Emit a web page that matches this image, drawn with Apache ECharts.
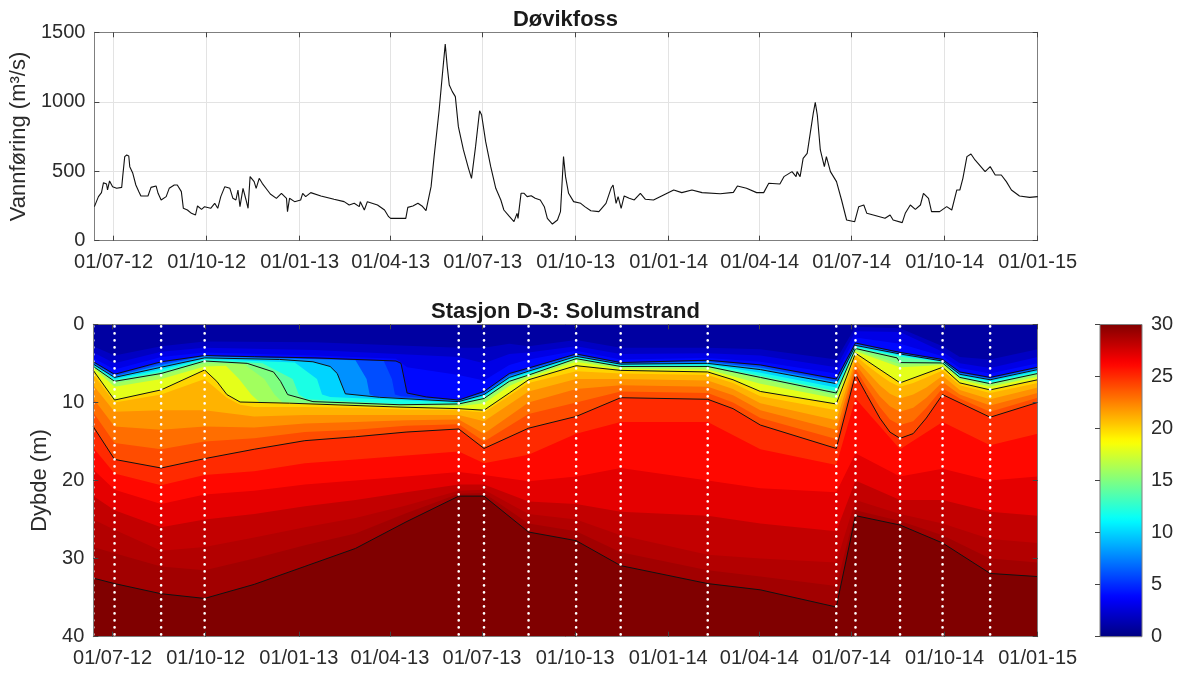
<!DOCTYPE html>
<html><head><meta charset="utf-8">
<script src="https://cdn.jsdelivr.net/npm/echarts@6/dist/echarts.min.js"></script>
<style>html,body{margin:0;padding:0;background:#fff}#c{width:1179px;height:675px}</style>
</head><body><div id="c"></div>
<script>
// ---------- DATA ----------
// Discharge, Døvikfoss: [day offset from 2012-07-01, m3/s]
const discharge = [[-19,245],[-15,317],[-12,346],[-10,418],[-7,408],[-6,365],[-4,430],[-1,389],[3,377],[8,384],[9,461],[11,605],[13,617],[15,610],[16,533],[19,485],[22,401],[25,353],[27,322],[34,322],[37,384],[42,394],[44,341],[47,293],[52,317],[55,377],[60,401],[63,401],[67,353],[69,233],[73,221],[77,197],[81,185],[83,250],[87,226],[90,245],[96,233],[100,269],[103,233],[106,317],[110,389],[115,377],[118,305],[121,293],[123,365],[125,245],[128,377],[131,293],[133,233],[135,461],[139,425],[141,377],[144,449],[147,413],[152,365],[155,336],[161,305],[166,341],[171,305],[172,209],[174,305],[179,281],[185,293],[187,341],[190,317],[195,346],[205,322],[218,298],[228,281],[233,257],[238,269],[243,245],[244,281],[248,221],[251,281],[261,257],[268,221],[272,173],[274,161],[289,161],[291,240],[296,250],[301,269],[305,250],[309,216],[314,389],[317,605],[322,941],[325,1181],[328,1415],[330,1253],[332,1121],[335,1073],[338,1037],[341,821],[346,653],[351,521],[354,449],[358,677],[362,935],[364,905],[368,713],[373,533],[378,377],[383,293],[386,221],[391,178],[396,137],[399,197],[400,161],[403,341],[406,341],[409,317],[413,324],[417,305],[422,293],[426,245],[429,161],[434,120],[439,149],[442,209],[445,605],[447,461],[450,341],[455,281],[462,269],[466,245],[472,216],[480,209],[487,269],[492,377],[494,401],[497,269],[499,317],[502,233],[505,322],[510,305],[515,293],[521,341],[526,298],[534,293],[544,329],[554,365],[562,346],[572,365],[582,346],[600,338],[613,348],[617,394],[626,377],[636,346],[643,346],[648,413],[659,408],[663,461],[671,497],[675,461],[676,497],[679,461],[682,593],[686,629],[689,773],[692,917],[694,995],[696,905],[699,653],[703,533],[705,605],[709,497],[715,425],[720,293],[725,149],[733,137],[737,245],[742,257],[745,197],[755,178],[763,161],[768,185],[771,149],[780,130],[783,197],[788,257],[793,226],[798,257],[801,341],[806,305],[809,209],[817,209],[824,245],[829,221],[834,365],[837,365],[840,449],[844,605],[848,624],[852,581],[855,557],[862,497],[867,533],[872,473],[878,473],[883,425],[888,365],[896,322],[906,312],[914,317]];

const tickDates  = ['2012-07-01','2012-10-01','2013-01-01','2013-04-01','2013-07-01','2013-10-01','2014-01-01','2014-04-01','2014-07-01','2014-10-01','2015-01-01'];
const tickLabels = ['01/07-12','01/10-12','01/01-13','01/04-13','01/07-13','01/10-13','01/01-14','01/04-14','01/07-14','01/10-14','01/01-15'];

// Station D-3 sampling dates (day offset from 2012-07-01)
const sampleDays = [-19, 2, 48, 91, 342, 367, 411, 458, 502, 588, 715, 734, 778, 820, 867];

// Isohalines: depth (m) of each salinity level, [day offset, depth]
const iso2  = [[-19,2.8],[2,4.0],[48,2.8],[91,2.2],[200,2.3],[342,3.0],[367,3.0],[392,2.5],[411,2.8],[458,2.0],[502,3.0],[588,3.0],[640,3.2],[715,4.5],[734,0.3],[778,0.5],[820,2.8],[837,4.2],[867,4.5],[914,3.2]];
const iso3  = [[-19,3.6],[2,5.0],[48,3.5],[91,3.0],[200,3.3],[342,4.2],[367,5.0],[392,3.8],[411,3.6],[458,2.8],[502,3.8],[588,3.7],[640,4.0],[715,5.5],[734,0.9],[778,1.0],[820,3.5],[837,5.0],[867,5.6],[914,4.2]];
const iso4  = [[-19,4.3],[2,5.8],[48,4.2],[91,3.6],[200,4.0],[280,4.4],[291,5.5],[342,6.5],[367,7.2],[392,5.2],[411,4.5],[458,3.4],[502,4.5],[588,4.3],[640,4.8],[715,6.3],[734,1.7],[778,2.5],[820,4.1],[837,5.6],[867,6.3],[914,5.0]];
const iso5  = [[-19,4.8],[2,6.4],[48,4.8],[91,4.0],[140,4.15],[200,4.3],[280,4.7],[285,5.0],[291,8.8],[310,9.3],[342,9.7],[367,8.6],[392,6.3],[411,5.6],[458,3.8],[502,4.9],[588,4.6],[640,5.2],[715,7.0],[734,2.4],[778,3.6],[820,4.5],[837,6.1],[867,6.8],[914,5.5]];
const iso6  = [[-19,4.85],[2,6.48],[48,4.95],[91,4.05],[268,4.7],[276,7.0],[279,9.0],[285,9.2],[342,9.75],[367,8.7],[392,6.4],[411,5.68],[458,3.86],[502,4.94],[588,4.68],[640,5.32],[715,7.12],[734,2.46],[778,3.65],[820,4.54],[837,6.16],[867,6.86],[914,5.56]];
const iso8  = [[-19,4.98],[2,6.64],[48,5.2],[91,4.1],[240,4.6],[251,7.0],[254,9.0],[260,9.25],[342,9.8],[367,8.85],[392,6.6],[411,5.84],[458,3.98],[502,5.02],[588,4.84],[640,5.56],[715,7.36],[734,2.58],[778,3.72],[820,4.62],[837,6.28],[867,6.98],[914,5.68]];
const iso10 = [[-19,5.1],[2,6.8],[48,5.5],[91,4.3],[165,4.5],[198,4.8],[215,5.4],[222,6.3],[230,8.9],[264,9.35],[342,9.9],[367,9.0],[392,6.8],[411,6.0],[458,4.1],[502,5.1],[588,5.0],[640,5.8],[715,7.6],[734,2.7],[778,3.8],[820,4.7],[837,6.4],[867,7.1],[914,5.8]];
const iso12 = [[-19,5.22],[2,7.0],[48,5.8],[91,4.45],[180,4.9],[202,7.0],[207,9.0],[215,9.3],[284,9.7],[342,10.05],[367,9.2],[392,7.0],[411,6.2],[458,4.22],[502,5.22],[588,5.16],[640,6.2],[715,8.1],[734,2.86],[778,3.95],[820,4.78],[837,6.56],[867,7.3],[914,6.0]];
const iso14 = [[-19,5.34],[2,7.2],[48,6.1],[91,4.6],[148,5.0],[178,7.0],[184,9.0],[192,9.6],[284,10.2],[342,10.15],[367,9.4],[392,7.2],[411,6.4],[458,4.34],[502,5.34],[588,5.32],[640,6.6],[715,8.55],[734,3.0],[778,4.15],[820,4.86],[837,6.72],[867,7.5],[914,6.2]];
const iso15 = [[-19,5.4],[2,7.3],[48,6.3],[91,4.7],[133,5.0],[159,6.1],[166,7.3],[173,9.0],[198,9.9],[284,10.3],[342,10.2],[367,9.5],[392,7.3],[411,6.5],[458,4.4],[502,5.4],[588,5.4],[640,6.8],[715,8.8],[734,3.1],[775,4.3],[778,4.9],[820,4.95],[837,6.8],[867,7.6],[914,6.3]];
const iso16 = [[-19,5.45],[2,7.55],[48,6.5],[91,5.0],[130,5.1],[150,7.0],[160,9.0],[168,10.0],[284,10.4],[342,10.3],[367,9.7],[392,7.5],[411,6.6],[458,4.5],[502,5.5],[588,5.5],[640,7.0],[715,9.1],[734,3.22],[778,5.1],[820,5.05],[837,6.9],[867,7.75],[914,6.45]];
const iso18 = [[-19,5.55],[2,8.0],[48,7.0],[91,5.4],[112,5.3],[125,7.0],[137,9.0],[145,9.95],[175,10.05],[284,10.5],[342,10.5],[367,10.1],[392,7.9],[411,6.8],[458,4.8],[502,5.7],[588,5.8],[640,7.6],[715,9.5],[734,3.45],[778,5.5],[820,5.2],[837,7.1],[867,8.0],[914,6.7]];
const iso20 = [[-19,5.9],[2,9.7],[48,8.4],[91,5.85],[103,7.3],[113,9.0],[126,9.95],[175,10.1],[284,10.6],[342,10.8],[367,11.0],[392,8.8],[411,7.1],[458,5.3],[502,5.9],[588,6.1],[613,7.1],[640,8.6],[715,10.2],[734,3.7],[778,7.5],[820,5.5],[837,7.5],[867,8.4],[914,7.1]];
const iso21 = [[-19,6.4],[2,10.0],[48,9.0],[91,7.0],[113,9.4],[126,10.3],[140,10.6],[190,10.6],[240,10.7],[290,10.9],[342,11.0],[367,11.3],[411,7.5],[458,6.0],[502,6.3],[588,6.5],[613,7.5],[640,9.2],[715,11.0],[734,4.0],[745,5.2],[758,6.5],[768,7.4],[778,8.0],[791,7.5],[804,6.8],[820,5.9],[837,7.8],[867,8.8],[914,7.5]];
const iso22 = [[-19,7.8],[2,11.2],[48,11.0],[91,11.0],[140,11.8],[190,11.6],[240,11.6],[290,11.6],[342,11.6],[367,12.4],[411,8.6],[458,7.0],[502,7.0],[588,7.2],[613,8.3],[640,10.1],[715,12.3],[734,4.5],[745,6.0],[758,7.8],[768,8.9],[778,9.5],[791,9.0],[804,8.1],[820,6.6],[837,8.4],[867,9.6],[914,8.1]];
const iso23 = [[-19,9.5],[2,13.1],[48,13.5],[91,13.1],[140,13.2],[190,12.7],[240,12.5],[290,12.3],[342,12.2],[367,14.0],[411,10.0],[458,8.3],[502,7.8],[588,8.0],[613,9.1],[640,11.0],[715,13.5],[734,5.1],[745,7.0],[758,9.2],[768,10.5],[778,11.2],[791,10.7],[804,9.4],[820,7.4],[837,9.0],[867,10.4],[914,8.8]];
const iso24 = [[-19,11.3],[2,15.2],[48,16.0],[91,15.0],[140,14.6],[190,13.8],[240,13.5],[290,13.0],[342,12.8],[367,15.0],[411,11.5],[458,10.0],[502,8.6],[588,8.8],[613,10.0],[640,12.0],[715,14.7],[734,5.7],[745,8.0],[758,10.6],[768,12.2],[778,12.9],[791,12.4],[804,10.7],[820,8.2],[837,9.5],[867,11.2],[914,9.4]];
const iso25 = [[-19,13.1],[2,17.3],[48,18.4],[91,17.2],[140,16.0],[190,14.9],[240,14.4],[290,13.8],[342,13.4],[367,15.9],[411,13.3],[458,11.8],[502,9.4],[588,9.6],[613,10.8],[640,12.9],[715,15.9],[734,6.4],[745,9.0],[758,12.0],[768,13.8],[778,14.6],[791,14.0],[804,12.0],[820,9.0],[867,11.9],[914,10.0]];
const iso26 = [[-19,15.8],[2,19.1],[48,20.6],[91,19.3],[140,18.8],[190,17.8],[240,17.3],[290,16.8],[342,16.3],[367,17.8],[411,16.7],[458,14.0],[502,12.5],[588,12.5],[640,16.0],[715,18.0],[734,9.5],[778,16.0],[820,12.5],[867,15.5],[914,14.0]];
const iso27 = [[-19,18.6],[2,21.2],[48,23.0],[91,21.8],[140,21.3],[190,20.5],[240,20.0],[290,19.5],[342,18.9],[367,19.3],[411,20.1],[458,19.5],[502,18.4],[588,20.0],[640,21.0],[715,21.5],[734,16.5],[778,19.5],[820,18.5],[867,20.0],[914,19.5]];
const iso28 = [[-19,22.0],[2,23.8],[48,26.0],[91,25.0],[140,24.3],[190,23.3],[240,22.5],[290,21.5],[342,20.5],[367,20.5],[411,22.7],[458,23.0],[502,24.0],[588,24.5],[640,25.5],[715,26.5],[734,20.0],[778,22.5],[820,22.5],[867,24.0],[914,24.5]];
const iso285 = [[-19,25.0],[2,26.3],[48,29.0],[91,28.5],[140,27.3],[190,26.0],[240,24.8],[290,23.2],[342,21.3],[367,21.2],[411,24.3],[458,25.0],[502,27.0],[588,29.5],[640,30.0],[715,30.5],[734,22.5],[778,24.3],[820,25.5],[867,27.5],[914,28.0]];
const iso29 = [[-19,28.5],[2,29.3],[48,31.0],[91,31.5],[140,30.0],[190,28.3],[240,26.8],[290,24.2],[342,21.7],[367,21.6],[411,25.5],[458,26.5],[502,29.2],[588,31.5],[640,32.3],[715,33.5],[734,23.8],[778,25.2],[820,27.0],[867,30.0],[914,30.5]];
const iso30 = [[-19,32.5],[2,33.2],[48,34.5],[91,35.1],[140,33.3],[190,31.0],[240,28.7],[290,25.3],[342,22.0],[367,22.0],[411,26.6],[458,27.7],[502,30.9],[588,33.2],[640,34.0],[715,36.2],[734,24.5],[778,25.7],[820,28.0],[867,31.9],[914,32.3]];

const isoLevels = [2,3,4,5,6,8,10,12,14,15,16,18,20,21,22,23,24,25,26,27,28,28.5,29,30];
const isoLines  = [iso2,iso3,iso4,iso5,iso6,iso8,iso10,iso12,iso14,iso15,iso16,iso18,iso20,iso21,iso22,iso23,iso24,iso25,iso26,iso27,iso28,iso285,iso29,iso30];
const contourLevels = [5,10,15,20,25,30];
const colorbarTicks = [0,5,10,15,20,25,30];

// ---------- HELPERS ----------
const DAY0 = Date.UTC(2012, 6, 1), DAY = 86400000;
const toT = d => DAY0 + d * DAY;
const T_MIN = toT(-19), T_MAX = toT(914);
const tickValues = tickDates.map(s => Date.parse(s + 'T00:00:00Z'));
const labelOf = v => { const i = tickValues.findIndex(t => Math.abs(t - v) < DAY); return i >= 0 ? tickLabels[i] : ''; };
const FONT = '"Liberation Sans", Arial, Helvetica, sans-serif';
const TXT = '#2b2b2b', BOX = '#7f7f7f', TICK = '#444';
function jet(v) {
  const c = x => Math.round(255 * Math.max(0, Math.min(1, x)));
  return 'rgb(' + c(1.5 - Math.abs(4 * v - 3)) + ',' + c(1.5 - Math.abs(4 * v - 2)) + ',' + c(1.5 - Math.abs(4 * v - 1)) + ')';
}
const lbl = (extra) => Object.assign({fontSize: 20, color: TXT, fontFamily: FONT, formatter: v => String(v)}, extra || {});

const G0 = {left: 93.3, top: 32.3, width: 944.4, height: 208.4};
const G1 = {left: 93.3, top: 324.3, width: 944.4, height: 312.4, show: true, backgroundColor: jet(1 / 30), borderWidth: 0};
const G2 = {left: 1100, top: 324.5, width: 42, height: 312.2};

function xAx(grid, pos, labels, split, z) {
  return {
    gridIndex: grid, type: 'value', min: T_MIN, max: T_MAX, position: pos, z: z,
    axisLine: {show: true, onZero: false, lineStyle: {color: BOX, width: 1}},
    axisTick: {show: true, inside: true, length: 5, customValues: tickValues, lineStyle: {color: TICK}},
    axisLabel: labels ? lbl({show: true, customValues: tickValues, formatter: labelOf, margin: 12}) : {show: false},
    splitLine: split ? {show: true, lineStyle: {color: '#e3e3e3', width: 1}} : {show: false}
  };
}
function yAx(grid, pos, min, max, step, opts) {
  return Object.assign({
    gridIndex: grid, type: 'value', min: min, max: max, interval: step, position: pos,
    axisLine: {show: true, lineStyle: {color: BOX, width: 1}},
    axisTick: {show: true, inside: true, length: 5, lineStyle: {color: TICK}},
    axisLabel: {show: false}, splitLine: {show: false}
  }, opts || {});
}

const fillSeries = isoLevels.map((lev, i) => ({
  type: 'line', xAxisIndex: 2, yAxisIndex: 2, silent: true, symbol: 'none', showSymbol: false,
  data: isoLines[i].map(p => [toT(p[0]), p[1]]),
  lineStyle: {width: 0, opacity: 0},
  areaStyle: {color: jet(lev / 30), opacity: 1, origin: 'end'},
  z: 2 + i * 0.01
}));
const blackSeries = contourLevels.map(lev => ({
  type: 'line', xAxisIndex: 2, yAxisIndex: 2, silent: true, symbol: 'none', showSymbol: false,
  data: isoLines[isoLevels.indexOf(lev)].map(p => [toT(p[0]), p[1]]),
  lineStyle: {color: '#111', width: 1}, z: 3
}));
const colorStops = [];
for (let k = 0; k <= 60; k++) colorStops.push({offset: k / 60, color: jet(k / 60)});

const option = {
  animation: false,
  backgroundColor: '#fff',
  graphic: [
    {type: 'text', x: 565.5, y: 19.5, silent: true, style: {text: 'Døvikfoss', font: 'bold 22px ' + FONT, fill: '#1a1a1a', align: 'center', verticalAlign: 'middle'}},
    {type: 'text', x: 565.5, y: 311.5, silent: true, style: {text: 'Stasjon D-3: Solumstrand', font: 'bold 22px ' + FONT, fill: '#1a1a1a', align: 'center', verticalAlign: 'middle'}}
  ],
  grid: [G0, G1, G2],
  xAxis: [
    xAx(0, 'bottom', true, true, 0),
    xAx(0, 'top', false, false, 0),
    xAx(1, 'bottom', true, false, 10),
    xAx(1, 'top', false, false, 10),
    {gridIndex: 2, type: 'value', min: 0, max: 1, show: false}
  ],
  yAxis: [
    yAx(0, 'left', 0, 1500, 500, {
      name: 'Vannføring (m³/s)', nameLocation: 'middle', nameGap: 55,
      nameTextStyle: {fontSize: 22, color: TXT, fontFamily: FONT},
      axisLabel: lbl({show: true, margin: 9}),
      splitLine: {show: true, lineStyle: {color: '#e3e3e3', width: 1}}
    }),
    yAx(0, 'right', 0, 1500, 500),
    yAx(1, 'left', 0, 40, 10, {
      inverse: true, z: 10,
      name: 'Dybde (m)', nameLocation: 'middle', nameGap: 32,
      nameTextStyle: {fontSize: 22, color: TXT, fontFamily: FONT},
      axisLabel: lbl({show: true, margin: 9})
    }),
    yAx(1, 'right', 0, 40, 10, {inverse: true, z: 10}),
    {gridIndex: 2, type: 'value', min: 0, max: 30, interval: 5, position: 'right', z: 10,
     axisLine: {show: false},
     axisTick: {show: true, inside: true, length: 5, customValues: colorbarTicks, lineStyle: {color: TICK}},
     axisLabel: lbl({show: true, margin: 9, customValues: colorbarTicks}),
     splitLine: {show: false}}
  ],
  series: [
    {type: 'line', xAxisIndex: 0, yAxisIndex: 0, silent: true, symbol: 'none', showSymbol: false,
     data: discharge.map(p => [toT(p[0]), p[1]]), lineStyle: {color: '#111', width: 1.1}, z: 3},
    ...fillSeries,
    ...blackSeries,
    {type: 'custom', xAxisIndex: 2, yAxisIndex: 2, silent: true, clip: true, z: 4,
     data: sampleDays.map(d => [toT(d), 0]),
     renderItem: (params, api) => {
       const x = api.value(0);
       const a = api.coord([x, 0]), b = api.coord([x, 40]);
       return {type: 'line', shape: {x1: a[0], y1: a[1] + 2, x2: b[0], y2: b[1]},
               style: {stroke: '#ffffff', lineWidth: 2.6, lineDash: [0.1, 6.9], lineCap: 'round'}};
     }},
    {type: 'custom', xAxisIndex: 4, yAxisIndex: 4, silent: true, z: 2,
     data: [[0, 0]],
     renderItem: (params, api) => {
       const a = api.coord([0, 0]), b = api.coord([1, 30]);
       return {type: 'rect', shape: {x: a[0], y: b[1], width: b[0] - a[0], height: a[1] - b[1]},
               style: {fill: new echarts.graphic.LinearGradient(0, 1, 0, 0, colorStops), stroke: BOX, lineWidth: 1}};
     }}
  ]
};
const chart = echarts.init(document.getElementById('c'), null, {renderer: 'canvas'});
chart.setOption(option);
</script></body></html>
